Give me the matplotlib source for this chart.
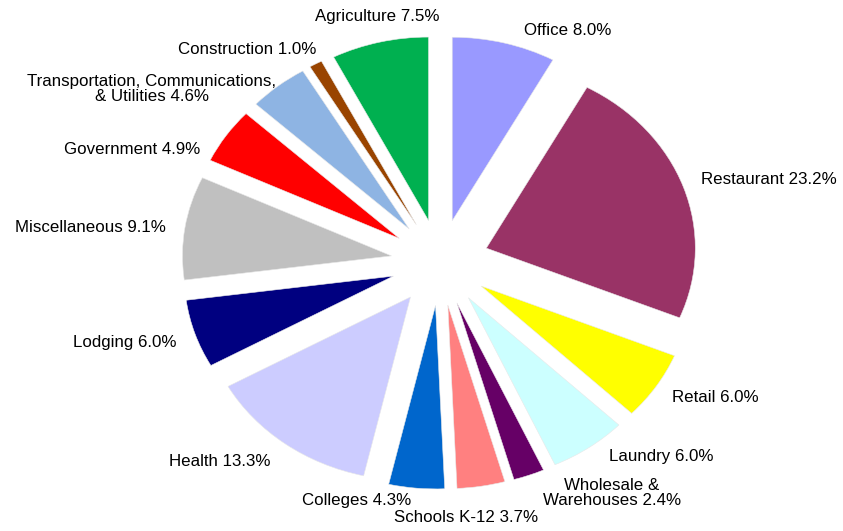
import matplotlib
matplotlib.use("Agg")
import matplotlib.pyplot as plt

# ---- data ----
categories = ["Office", "Restaurant", "Retail", "Laundry", "Wholesale &\nWarehouses",
              "Schools K-12", "Colleges", "Health", "Lodging", "Miscellaneous",
              "Government", "Transportation, Communications,\n& Utilities",
              "Construction", "Agriculture"]
shares = [8.0, 23.2, 6.0, 6.0, 2.4, 3.7, 4.3, 13.3, 6.0, 9.1, 4.9, 4.6, 1.0, 7.5]
colors = ["#9999FF", "#993366", "#FFFF00", "#CCFFFF", "#660066", "#FF8080", "#0066CC",
          "#CCCCFF", "#000080", "#C0C0C0", "#FF0000", "#8EB4E3", "#994400", "#00B050"]

# ---- layout (label centres, figure fraction) ----
label_pos = [(568/843, 1-31/531), (769/843, 1-180/531), (715/843, 1-397/531),
             (661/843, 1-457/531), (612/843, 1-493/531), (466/843, 1-518/531),
             (357/843, 1-500/531), (220/843, 1-462/531), (125/843, 1-342/531),
             (90/843, 1-227/531), (132/843, 1-149/531), (152/843, 1-89/531),
             (247/843, 1-49/531), (377/843, 1-16/531)]

W, H = 843, 531
cx, cy = 440, 262.5   # pie centre in pixels
rx, ry = 209, 183.5   # pixel radius horizontally / vertically

fig = plt.figure(figsize=(W/100, H/100), dpi=100)
ax = fig.add_axes([0, 0, 1, 1])
ax.pie(shares, colors=colors, startangle=90, counterclock=False,
       explode=[0.235]*len(shares), radius=1.0,
       wedgeprops=dict(linewidth=0.4, edgecolor="#e8e8e8"))
ax.set_aspect("auto")
ax.set_xlim(-cx/rx, (W-cx)/rx)
ax.set_ylim(-(H-cy)/ry, cy/ry)
ax.axis("off")

for name, val, (fx, fy) in zip(categories, shares, label_pos):
    fig.text(fx, fy, f"{name} {val:.1f}%", ha="center", va="center",
             multialignment="center", fontsize=12.2, family="Liberation Sans",
             color="black", linespacing=1.0)

fig.savefig("out.png", dpi=100, facecolor="white")
